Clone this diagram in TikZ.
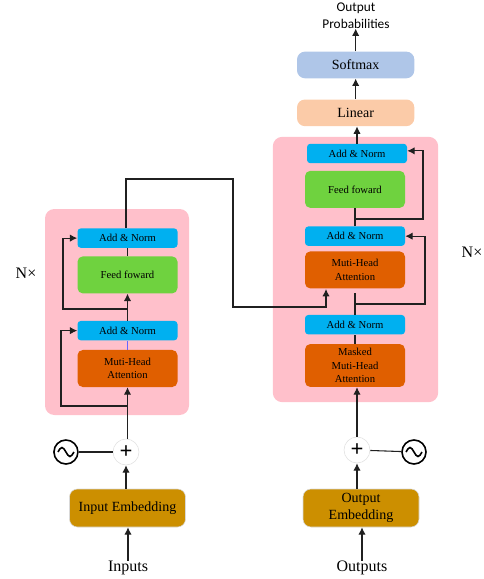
\documentclass[tikz,border=0pt]{standalone}
\usepackage{fontspec}
\setmainfont{Liberation Serif}
\newfontfamily\probfont{Carlito}
\usetikzlibrary{arrows.meta,positioning}

\definecolor{panelpink}{HTML}{FFC0CB}
\definecolor{normblue}{HTML}{00B0F0}
\definecolor{feedgreen}{HTML}{6FD23F}
\definecolor{attnorange}{HTML}{E05F00}
\definecolor{embgold}{HTML}{CC8F00}
\definecolor{softblue}{HTML}{AFC6E8}
\definecolor{linpeach}{HTML}{FBCBA8}
\definecolor{wire}{HTML}{202020}

\begin{document}
\begin{tikzpicture}[
      x=0.75pt, y=-0.75pt,
      panel/.style={fill=panelpink, rounded corners=7pt, minimum width=#1, inner sep=0pt},
      block/.style={rounded corners=4pt, align=center, minimum width=75pt, inner sep=0pt},
      norm/.style={block, fill=normblue, rounded corners=2.5pt, minimum height=14.6pt, font=\fontsize{8}{9.5}\selectfont},
      feed/.style={block, fill=feedgreen, minimum height=27.8pt, font=\fontsize{8}{9.5}\selectfont},
      attn/.style={block, fill=attnorange, minimum height=27.8pt, font=\fontsize{8}{10.2}\selectfont},
      emb/.style={block, fill=embgold, draw=gray!30, minimum width=87pt, minimum height=28.5pt, rounded corners=6pt, font=\fontsize{10.5}{12.5}\selectfont},
      top/.style={block, rounded corners=6pt, minimum width=88pt, font=\fontsize{10.5}{12}\selectfont},
      sum/.style={circle, draw=gray!25, fill=white, minimum size=19.5pt, inner sep=0pt, font=\bfseries\fontsize{17}{17}\selectfont},
      wave/.style={circle, draw=black, line width=1.2pt, minimum size=18pt, inner sep=0pt,
        path picture={\draw[line width=1.2pt] (path picture bounding box.center) ++(-8,0) sin ++(4,-4.5) cos ++(4,4.5) sin ++(4,4.5) cos ++(4,-4.5);}},
      term/.style={font=\fontsize{12}{14}\selectfont, inner sep=0pt},
      arr/.style={-{Latex[length=5.5pt,width=5.5pt]}, draw=wire, line width=0.8pt},
      lin/.style={draw=wire, line width=0.8pt}
    ]
      \useasboundingbox (0,0) rectangle (484,579);

      % panels
      \node[panel=108pt, minimum height=154.5pt] (encbg) at (117,312) {};
      \node[panel=124pt, minimum height=199pt] (decbg) at (355.5,269.5) {};

      % left column
      \node[attn] (attL) at (127.5,368.5) {Muti-Head\\Attention};
      \node[norm, above=6.8pt of attL] (normLa) {Add \& Norm};
      \node[feed, above=20.2pt of normLa] (feedL) {Feed foward};
      \node[norm, above=6pt of feedL] (normLb) {Add \& Norm};
      \node[emb] (embL) at (127.5,508) {Input Embedding};
      \node[sum] (plusL) at (126,452) {+};
      \node[wave, left=25.5pt of plusL] (waveL) {};
      \node[term] (inL) at (128,568) {Inputs};

      % right column
      \node[attn, minimum height=32.2pt] (maskR) at (355,365.5) {Masked\\Muti-Head\\Attention};
      \node[norm, above=6.8pt of maskR] (normRa) {Add \& Norm};
      \node[attn, above=19.5pt of normRa] (attR) {Muti-Head\\Attention};
      \node[norm, above=3.7pt of attR] (normRb) {Add \& Norm};
      \node[feed, above=13.5pt of normRb] (feedR) {Feed foward};
      \node[norm, above=5.3pt of feedR, xshift=1.5pt] (normRc) {Add \& Norm};
      \node[top, fill=linpeach, minimum height=20pt, above=12.8pt of normRc, xshift=-1pt] (linR) {Linear};
      \node[top, fill=softblue, minimum height=20pt, above=15.5pt of linR] (softR) {Softmax};
      \node[align=center, inner sep=0pt, font=\probfont\fontsize{10}{12.6}\selectfont] (probR) at (356,15.5) {Output\\Probabilities};
      \node[emb, align=center] (embR) at (361,508) {Output\\Embedding};
      \node[sum] (plusR) at (357,450) {+};
      \node[wave] (waveR) at (414,452) {};
      \node[term] (outR) at (362,568) {Outputs};

      % side labels
      \node[term] (nL) at (26,273) {N×};
      \node[term] (nR) at (472,252) {N×};

      % free ends
      \coordinate (hopA) at (233,179);
      \coordinate (hopB) at (233,307);
      \coordinate (tapX) at (326,289);
      \coordinate (tapLa) at (61,406);
      \coordinate (tapLb) at (63,309);
      \coordinate (tapRa) at (425,304);
      \coordinate (tapRb) at (423,219);

      % encoder wires
      \draw[lin] (waveL) -- (plusL);
      \draw[arr] (inL.north) -- (embL.south -| inL);
      \draw[arr] (embL.north -| plusL) -- (plusL.south);
      \draw[arr] (plusL.north -| attL) -- (attL.south);
      \draw[arr] (attL.south |- tapLa) -- (tapLa) |- (normLa.west);
      \draw[draw=blue!60, line width=0.6pt] (attL.north) -- (normLa.south);
      \draw[arr] (normLa.north) -- (feedL.south);
      \draw[arr] (feedL.south |- tapLb) -- (tapLb) |- (normLb.west);
      \draw[lin] (feedL.north) -- (normLb.south);

      % decoder wires
      \draw[lin] (waveR) -- (plusR);
      \draw[arr] (outR.north) -- (embR.south -| outR);
      \draw[arr] (embR.north -| plusR) -- (plusR.south);
      \draw[arr] (plusR.north) -- (maskR.south -| plusR);
      \draw[lin] (maskR.north) -- (normRa.south);
      \draw[lin] (normRa.north) -- ([yshift=-3pt]attR.south);
      \draw[arr] (normRa.north |- tapRa) -- (tapRa) |- (normRb.east);
      \draw[lin] (normRb.north) -- (feedR.south);
      \draw[arr] (feedR.south |- tapRb) -- (tapRb) |- ([yshift=2pt]normRc.east);
      \draw[arr] (normRc.north) -- (linR.south -| normRc);
      \draw[arr] (linR.north) -- (softR.south);
      \draw[arr] (softR.north) -- (probR.south -| softR);

      % encoder to decoder
      \draw[arr] (normLb.north -| plusL) |- (hopA) -- (hopB) -| (tapX);
\end{tikzpicture}
\end{document}
